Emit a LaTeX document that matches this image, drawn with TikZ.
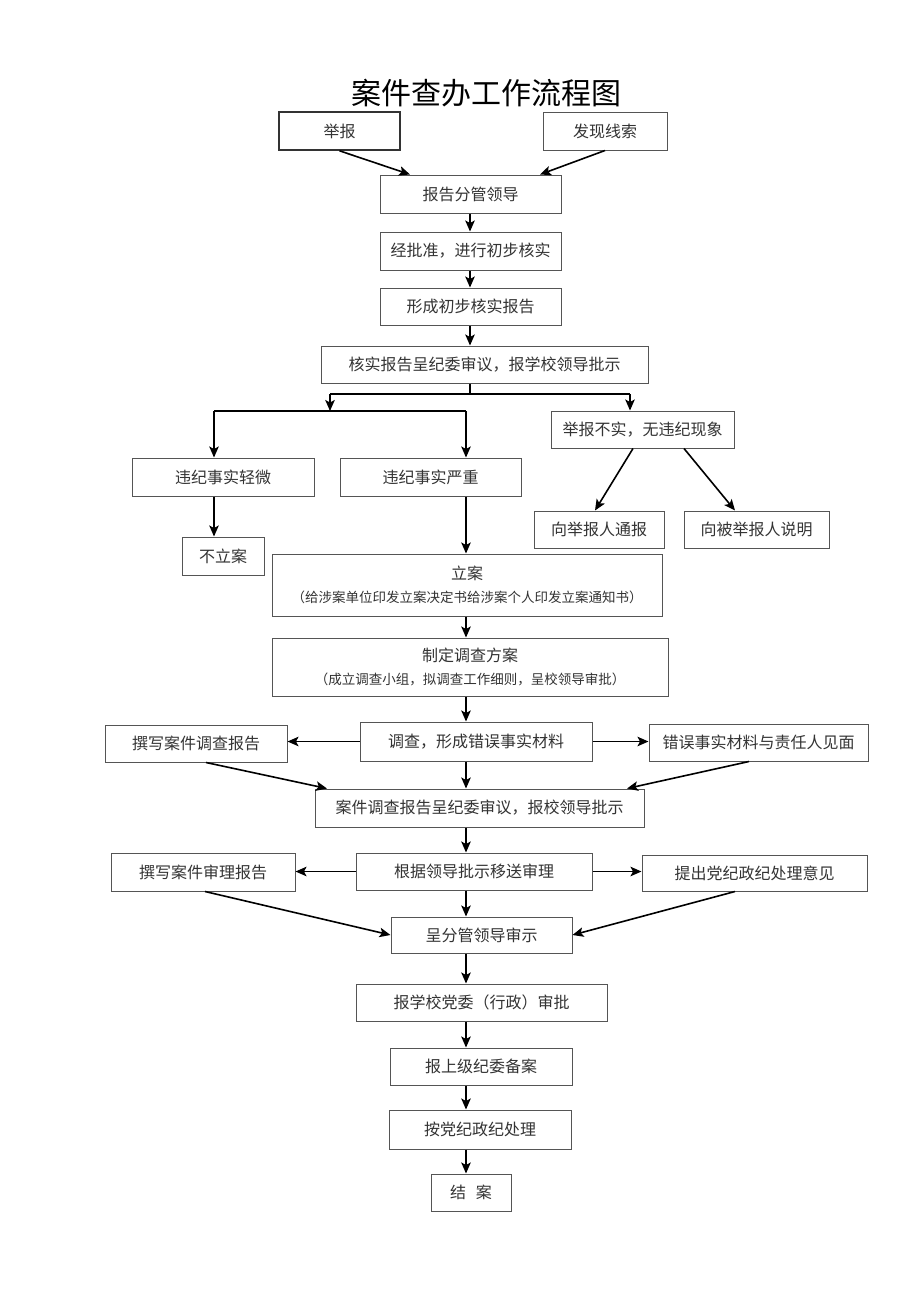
\documentclass[tikz,border=0pt]{standalone}
\usepackage{fontspec}
\setmainfont{Noto Sans CJK SC}
\usetikzlibrary{arrows.meta}
\definecolor{boxline}{HTML}{555555}
\definecolor{txt}{HTML}{333333}
\begin{document}
\begin{tikzpicture}[x=1pt,y=-1pt,
  box/.style={draw=boxline,line width=1pt,rectangle,inner sep=0pt,text=txt,
    font=\fontsize{16}{18}\selectfont,align=center},
  arr/.style={line width=1.6pt,draw=black,-{Stealth[length=11pt,width=9.5pt,inset=2.5pt]}},
  ln/.style={line width=1.6pt,draw=black}]
\useasboundingbox (0,0) rectangle (920,1301);
\fill[white] (0,0) rectangle (920,1301);

\node[font=\fontsize{30}{34}\selectfont] (title) at (486,93) {案件查办工作流程图};

% top part
\node[box,draw=black!80,line width=1.6pt,minimum width=121,minimum height=38] (jb) at (339.5,131) {举报};
\node[box,minimum width=124,minimum height=38] (fx) at (605,131) {发现线索};
\node[box,minimum width=181,minimum height=38] (bg) at (470.5,194) {报告分管领导};
\node[box,minimum width=181,minimum height=38] (jpz) at (470.5,251) {经批准，进行初步核实};
\node[box,minimum width=181,minimum height=37] (xc) at (470.5,306.5) {形成初步核实报告};
\node[box,minimum width=327,minimum height=37] (hs) at (484.5,364.5) {核实报告呈纪委审议，报学校领导批示};

\node[box,minimum width=182,minimum height=38] (qw) at (223,477) {违纪事实轻微};
\node[box,minimum width=181,minimum height=38] (yz) at (430.5,477) {违纪事实严重};
\node[box,minimum width=183,minimum height=37] (bs) at (642.5,429.5) {举报不实，无违纪现象};
\node[box,minimum width=130,minimum height=37] (xjb) at (599,529.5) {向举报人通报};
\node[box,minimum width=145,minimum height=37] (xbj) at (756.5,529.5) {向被举报人说明};
\node[box,minimum width=82,minimum height=38] (bla) at (223,556) {不立案};

\node[box,minimum width=390,minimum height=62] (la) at (467,585) {立案\\[5pt]{\fontsize{13.5}{16}\selectfont （给涉案单位印发立案决定书给涉案个人印发立案通知书）}};
\node[box,minimum width=396,minimum height=58] (zd) at (470,667) {制定调查方案\\[5pt]{\fontsize{13.5}{16}\selectfont （成立调查小组，拟调查工作细则，呈校领导审批）}};

\node[box,minimum width=232,minimum height=39] (dc) at (476,741.5) {调查，形成错误事实材料};
\node[box,minimum width=182,minimum height=37] (zx1) at (196,743.5) {撰写案件调查报告};
\node[box,minimum width=219,minimum height=37] (cw) at (758.5,742.5) {错误事实材料与责任人见面};
\node[box,minimum width=329,minimum height=38] (ajd) at (479.5,808) {案件调查报告呈纪委审议，报校领导批示};

\node[box,minimum width=236,minimum height=37] (gj) at (474,871.5) {根据领导批示移送审理};
\node[box,minimum width=184,minimum height=38] (zx2) at (203,872) {撰写案件审理报告};
\node[box,minimum width=225,minimum height=36] (tc) at (754.5,873) {提出党纪政纪处理意见};
\node[box,minimum width=181,minimum height=36] (cf) at (481.5,935) {呈分管领导审示};

\node[box,minimum width=251,minimum height=37] (bxx) at (481.5,1002.5) {报学校党委（行政）审批};
\node[box,minimum width=182,minimum height=37] (bsj) at (481,1066.5) {报上级纪委备案};
\node[box,minimum width=182,minimum height=39] (adj) at (480,1129.5) {按党纪政纪处理};
\node[box,minimum width=80,minimum height=37] (ja) at (471,1192.5) {结\hspace{0.6em}案};

% column coordinates
\coordinate (c470) at (470,0);
\coordinate (c466) at (466,0);

% top arrows
\draw[arr] (jb.south) -- ([xshift=-60.5]bg.north);
\draw[arr] (fx.south) -- ([xshift=69.5]bg.north);
\draw[arr] (bg.south -| c470) -- (jpz.north -| c470);
\draw[arr] (jpz.south -| c470) -- (xc.north -| c470);
\draw[arr] (xc.south -| c470) -- (hs.north -| c470);

% branching
\coordinate (j1) at (470,394);
\coordinate (j1l) at (330,394);
\coordinate (j1r) at (630,394);
\coordinate (j2l) at (214,411);
\coordinate (j2r) at (466,411);
\draw[ln] (hs.south -| j1) -- (j1);
\draw[ln] (j1l) -- (j1r);
\draw[arr] (j1l) -- (j1l |- j2l);
\draw[arr] (j1r) -- (j1r |- bs.north);
\draw[ln] (j2l) -- (j2r);
\draw[arr] (j2l) -- (j2l |- qw.north);
\draw[arr] (j2r) -- (j2r |- yz.north);

\draw[arr] (qw.south -| j2l) -- (bla.north -| j2l);
\draw[arr] (yz.south -| j2r) -- (la.north -| j2r);
\draw[arr] ([xshift=-9.5]bs.south) -- ([xshift=-4]xjb.north);
\draw[arr] ([xshift=41.5]bs.south) -- ([xshift=-21.5]xbj.north);

\draw[arr] (la.south -| c466) -- (zd.north -| c466);
\draw[arr] (zd.south -| c466) -- (dc.north -| c466);

% investigation
\draw[arr] (dc.west) -- (dc.west -| zx1.east);
\draw[arr] (dc.east) -- (dc.east -| cw.west);
\draw[arr] (dc.south -| c466) -- (ajd.north -| c466);
\draw[arr] ([xshift=10]zx1.south) -- ([xshift=-152.5]ajd.north);
\draw[arr] ([xshift=-9.5]cw.south) -- ([xshift=147.5]ajd.north);

\draw[arr] (ajd.south -| c466) -- (gj.north -| c466);
\draw[arr] (gj.west) -- (gj.west -| zx2.east);
\draw[arr] (gj.east) -- (gj.east -| tc.west);
\draw[arr] (gj.south -| c466) -- (cf.north -| c466);
\draw[arr] ([xshift=2]zx2.south) -- (cf.west);
\draw[arr] ([xshift=-19.5]tc.south) -- (cf.east);

\draw[arr] (cf.south -| c466) -- (bxx.north -| c466);
\draw[arr] (bxx.south -| c466) -- (bsj.north -| c466);
\draw[arr] (bsj.south -| c466) -- (adj.north -| c466);
\draw[arr] (adj.south -| c466) -- (ja.north -| c466);
\end{tikzpicture}
\end{document}
